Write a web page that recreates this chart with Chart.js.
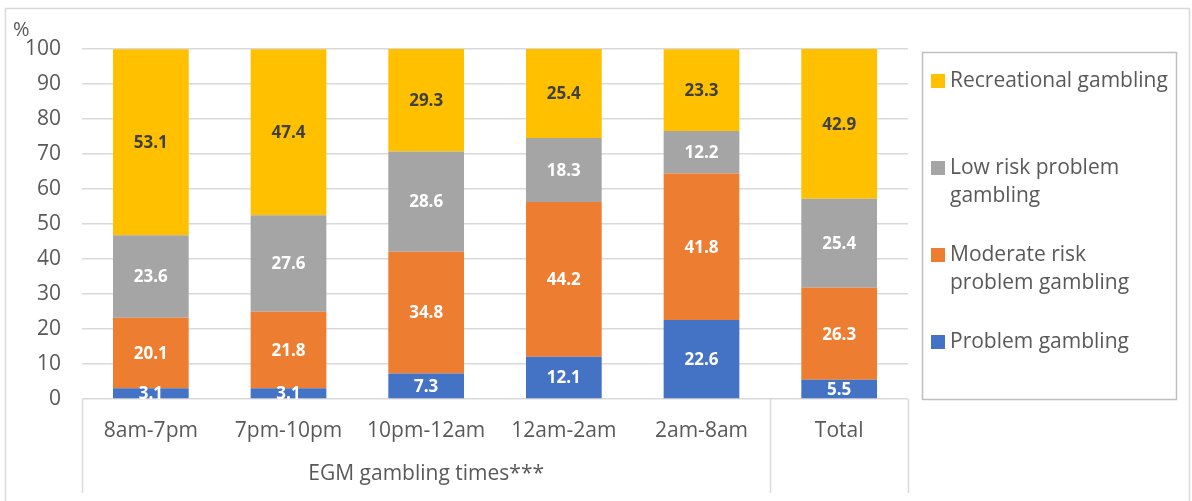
<!DOCTYPE html>
<html>
<head>
<meta charset="utf-8">
<script src="https://cdn.jsdelivr.net/npm/chart.js@4/dist/chart.umd.min.js"></script>
<style>
  html, body { margin: 0; padding: 0; background: #fff; }
  #wrap { width: 1192px; height: 501px; position: relative; }
</style>
</head>
<body>
<div id="wrap"><canvas id="myCanvas" width="1192" height="501"></canvas></div>
<script>
'use strict';

// data
var categories = ['8am-7pm', '7pm-10pm', '10pm-12am', '12am-2am', '2am-8am', 'Total'];
var groupLabel = 'EGM gambling times***';
var problem = [3.1, 3.1, 7.3, 12.1, 22.6, 5.5];
var moderate = [20.1, 21.8, 34.8, 44.2, 41.8, 26.3];
var lowRisk = [23.6, 27.6, 28.6, 18.3, 12.2, 25.4];
var recreational = [53.1, 47.4, 29.3, 25.4, 23.3, 42.9];
var yTicks = [0, 10, 20, 30, 40, 50, 60, 70, 80, 90, 100];

var FONT = 'Open Sans, sans-serif';
var TEXT = '#595959';

// legend drawn in its own box (top to bottom)
var legendItems = [
    { lines: ['Recreational gambling'], color: '#FFC000', y: 81 },
    { lines: ['Low risk problem', 'gambling'], color: '#A5A5A5', y: 168 },
    { lines: ['Moderate risk', 'problem gambling'], color: '#ED7D31', y: 255 },
    { lines: ['Problem gambling'], color: '#4472C4', y: 342 }
];

// labels in the middle of each segment
var segmentLabels = {
    id: 'segmentLabels',
    afterDatasetsDraw: function (chart) {
        var ctx = chart.ctx;
        ctx.save();
        ctx.font = 'bold 17px ' + FONT;
        ctx.textAlign = 'center';
        ctx.textBaseline = 'middle';
        chart.data.datasets.forEach(function (ds, i) {
            var meta = chart.getDatasetMeta(i);
            meta.data.forEach(function (bar, j) {
                ctx.fillStyle = ds.labelColor;
                var mid = (bar.y + bar.base) / 2;
                ctx.fillText(ds.data[j].toFixed(1), bar.x, mid + 1);
            });
        });
        ctx.restore();
    }
};

// frame, legend, axis title, category labels
var decorations = {
    id: 'decorations',
    afterDraw: function (chart) {
        var ctx = chart.ctx,
            area = chart.chartArea,
            x = chart.scales.x;
        ctx.save();

        // outer frame
        ctx.strokeStyle = '#D9D9D9';
        ctx.lineWidth = 1.5;
        ctx.strokeRect(5.5, 8.5, 1184, 510);

        // "%" title
        ctx.fillStyle = TEXT;
        ctx.font = '20px ' + FONT;
        ctx.textAlign = 'left';
        ctx.textBaseline = 'middle';
        ctx.fillText('%', 13, 30);

        // category labels
        ctx.font = '21px ' + FONT;
        ctx.textAlign = 'center';
        categories.forEach(function (c, i) {
            ctx.fillText(c, x.getPixelForValue(i), 431);
        });
        var g0 = x.getPixelForValue(0), g1 = x.getPixelForValue(4);
        ctx.fillText(groupLabel, (g0 + g1) / 2, 474);

        // separators of the multi-level axis
        var step = x.getPixelForValue(1) - x.getPixelForValue(0);
        var seps = [area.left, x.getPixelForValue(4) + step / 2, area.right];
        ctx.strokeStyle = '#D9D9D9';
        ctx.lineWidth = 1.5;
        seps.forEach(function (sx) {
            ctx.beginPath();
            ctx.moveTo(Math.round(sx) + 0.5, area.bottom);
            ctx.lineTo(Math.round(sx) + 0.5, 493);
            ctx.stroke();
        });

        // legend box
        ctx.strokeStyle = '#BFBFBF';
        ctx.lineWidth = 1.5;
        ctx.strokeRect(922.5, 52.5, 254, 347);
        ctx.textAlign = 'left';
        ctx.font = '21px ' + FONT;
        legendItems.forEach(function (it) {
            ctx.fillStyle = it.color;
            ctx.fillRect(931, it.y - 7, 14, 14);
            ctx.fillStyle = TEXT;
            it.lines.forEach(function (ln, k) {
                ctx.fillText(ln, 950, it.y + k * 28);
            });
        });

        ctx.restore();
    }
};

var ctx = document.getElementById('myCanvas').getContext('2d');
var myChart = new Chart(ctx, {
    type: 'bar',
    data: {
        labels: categories,
        datasets: [
            { label: 'Problem gambling', data: problem, backgroundColor: '#4472C4', labelColor: '#FFFFFF' },
            { label: 'Moderate risk problem gambling', data: moderate, backgroundColor: '#ED7D31', labelColor: '#FFFFFF' },
            { label: 'Low risk problem gambling', data: lowRisk, backgroundColor: '#A5A5A5', labelColor: '#FFFFFF' },
            { label: 'Recreational gambling', data: recreational, backgroundColor: '#FFC000', labelColor: '#404040' }
        ]
    },
    options: {
        responsive: false,
        animation: false,
        devicePixelRatio: 1,
        layout: { padding: { left: 0, right: 284, top: 49, bottom: 0 } },
        datasets: { bar: { categoryPercentage: 1, barPercentage: 0.55 } },
        plugins: { legend: { display: false }, tooltip: { enabled: false } },
        scales: {
            x: {
                stacked: true,
                grid: { display: false },
                border: { display: false },
                ticks: { display: false },
                afterFit: function (s) { s.height = 102; }
            },
            y: {
                stacked: true,
                min: 0,
                max: 100,
                afterBuildTicks: function (s) {
                    s.ticks = yTicks.map(function (v) { return { value: v }; });
                },
                grid: { color: '#D9D9D9', lineWidth: 1.5, drawTicks: false },
                border: { display: false },
                ticks: {
                    color: TEXT,
                    font: { family: FONT, size: 21 },
                    padding: 21
                },
                afterFit: function (s) { s.width = 82; }
            }
        }
    },
    plugins: [segmentLabels, decorations]
});
</script>
</body>
</html>
